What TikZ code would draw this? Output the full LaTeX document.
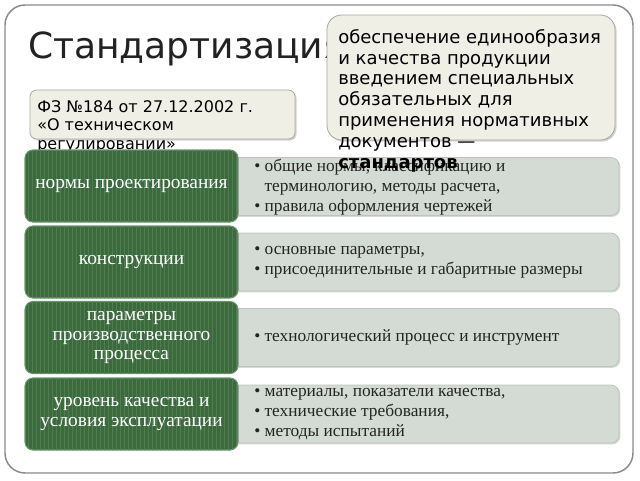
\documentclass[tikz,border=0pt]{standalone}
\usepackage{fontspec}
\setmainfont{Liberation Serif}
\newfontfamily\slidefont{DejaVu Sans}
\usetikzlibrary{patterns,shadows}
\definecolor{framegray}{HTML}{8A8A8A}
\definecolor{titlegray}{HTML}{222222}
\definecolor{notefill}{HTML}{F0EFE6}
\definecolor{noteedge}{HTML}{A8A79E}
\definecolor{darkgreen}{HTML}{3C693D}
\definecolor{stripegreen}{HTML}{4E7D4F}
\definecolor{edgegreen}{HTML}{6E976E}
\definecolor{rowfill}{HTML}{D4DBD4}
\definecolor{rowedge}{HTML}{BCC4BC}
\definecolor{rowtext}{HTML}{242424}

\begin{document}
\begin{tikzpicture}[x=0.75pt,y=-0.75pt,
  notebox/.style={draw=noteedge, fill=notefill, line width=0.6pt,
    drop shadow={shadow xshift=1.2pt, shadow yshift=-1.2pt, opacity=0.35}},
  greenbox/.style={draw=edgegreen, fill=darkgreen, line width=0.8pt, rounded corners=6pt,
    postaction={pattern=vertical lines, pattern color=stripegreen},
    minimum width=159.75pt, minimum height=54pt, align=center, text=white,
    font=\fontsize{14.5}{14.8}\selectfont},
  graybox/.style={draw=rowedge, fill=rowfill, line width=0.6pt, rounded corners=6pt,
    minimum width=293.25pt, minimum height=43.5pt,
    drop shadow={shadow xshift=1pt, shadow yshift=-1pt, opacity=0.3}},
  listtext/.style={anchor=west, align=left, inner sep=0pt, text=rowtext,
    font=\fontsize{13}{15}\selectfont}]
\useasboundingbox (0,0) rectangle (640,480);
\draw[framegray, line width=1.1pt, rounded corners=15pt, fill=white] (5,5) rectangle (633,473);

\node[anchor=base west, inner sep=0pt, text=titlegray, font=\slidefont\fontsize{27}{30}\selectfont] (title) at (28,58) {Стандартизация};

% law
\node[notebox, rounded corners=5pt, minimum width=198.75pt, minimum height=36.75pt] (law) at (162.5,114.5) {};
\node[anchor=north west, align=left, inner sep=0pt, font=\slidefont\fontsize{12}{13.9}\selectfont] (lawtext) at (37,100)
  {ФЗ №184 от 27.12.2002 г.\\«О техническом\\регулировании»};

% rows
\node[graybox] (g1) at (423.5,186.5) {};
\node[graybox] (g2) at (423.5,262) {};
\node[graybox] (g3) at (423.5,337.5) {};
\node[graybox] (g4) at (423.5,414) {};

\node[greenbox] (n1) at (131.5,186) {нормы проектирования};
\node[greenbox] (n2) at (131.5,262) {конструкции};
\node[greenbox] (n3) at (131.5,337.5) {параметры\\производственного\\процесса};
\node[greenbox] (n4) at (131.5,414) {уровень качества и\\условия эксплуатации};

\node[listtext] (l1) at (254,187) {• общие нормы, классификацию и\\\phantom{• }терминологию,  методы расчета,\\• правила оформления чертежей};
\node[listtext] (l2) at (254,262) {• основные параметры,\\• присоединительные и габаритные размеры};
\node[listtext] (l3) at (254,337.5) {• технологический процесс и инструмент};
\node[listtext] (l4) at (254,414) {• материалы, показатели качества,\\• технические требования,\\• методы испытаний};

% goal
\node[notebox, rounded corners=11pt, minimum width=216pt, minimum height=93.75pt] (goal) at (471,77.5) {};
\node[anchor=north west, align=left, inner sep=0pt, font=\slidefont\fontsize{13.5}{15.6}\selectfont] (goaltext) at (338,29)
  {обеспечение единообразия\\и качества продукции\\введением специальных\\обязательных для\\применения нормативных\\документов —\\\textbf{стандартов}};
\end{tikzpicture}
\end{document}
